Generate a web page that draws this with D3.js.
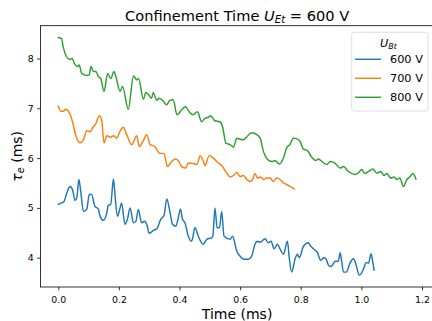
<!DOCTYPE html>
<html>
<head>
<meta charset="utf-8">
<script src="https://cdn.jsdelivr.net/npm/d3@7/dist/d3.min.js"></script>
<style>
  body { margin: 0; background: #fff; }
  svg { display: block; font-family: "DejaVu Sans", sans-serif; }
</style>
</head>
<body>
<svg id="chart" width="432" height="321"></svg>
<script>
// Confinement time traces, one per U_Bt setting (time in ms, tau_e in ms)
const time600 = [0, 0.011, 0.019, 0.028, 0.039, 0.047, 0.055, 0.061, 0.068, 0.074, 0.083, 0.094, 0.102, 0.110, 0.121, 0.132, 0.138, 0.149, 0.160, 0.165, 0.173, 0.182, 0.187, 0.195, 0.204, 0.209, 0.220, 0.228, 0.237, 0.248, 0.256, 0.264, 0.275, 0.284, 0.292, 0.300, 0.314, 0.325, 0.338, 0.349, 0.358, 0.369, 0.377, 0.388, 0.396, 0.403, 0.410, 0.418, 0.429, 0.440, 0.451, 0.462, 0.478, 0.490, 0.506, 0.510, 0.517, 0.524, 0.532, 0.539, 0.547, 0.567, 0.575, 0.589, 0.600, 0.613, 0.627, 0.638, 0.649, 0.657, 0.666, 0.682, 0.693, 0.702, 0.712, 0.723, 0.732, 0.743, 0.756, 0.762, 0.770, 0.781, 0.789, 0.795, 0.809, 0.825, 0.833, 0.842, 0.855, 0.866, 0.877, 0.883, 0.894, 0.902, 0.913, 0.924, 0.930, 0.935, 0.941, 0.950, 0.963, 0.974, 0.983, 0.993, 1.007, 1.016, 1.024, 1.032, 1.038, 1.042];
const tau600 = [5.07, 5.10, 5.13, 5.30, 5.43, 5.37, 5.15, 5.20, 5.57, 5.33, 4.93, 4.97, 5.27, 5.27, 5.03, 4.98, 4.83, 4.75, 4.90, 5.05, 5.07, 5.58, 5.27, 4.83, 5.00, 5.10, 4.67, 4.77, 5.00, 4.70, 4.73, 4.97, 4.70, 4.73, 4.67, 4.49, 4.55, 4.58, 4.77, 4.85, 5.18, 4.90, 4.67, 4.63, 4.80, 4.98, 4.77, 4.70, 4.43, 4.33, 4.60, 4.43, 4.27, 4.37, 4.40, 4.43, 5.00, 4.60, 4.60, 4.93, 4.43, 4.37, 4.43, 4.13, 4.03, 3.97, 3.97, 4.03, 4.27, 4.33, 4.31, 4.38, 4.30, 4.33, 4.18, 4.27, 4.17, 4.07, 4.33, 4.00, 3.71, 3.97, 4.07, 4.00, 4.23, 4.30, 4.23, 4.18, 4.10, 3.95, 4.00, 3.98, 3.83, 3.83, 3.93, 3.93, 4.10, 3.93, 3.71, 3.71, 3.90, 3.98, 3.85, 3.65, 3.77, 3.90, 3.89, 4.08, 3.90, 3.75];

const time700 = [0, 0.008, 0.016, 0.025, 0.036, 0.047, 0.058, 0.072, 0.083, 0.094, 0.105, 0.116, 0.124, 0.135, 0.143, 0.151, 0.160, 0.173, 0.182, 0.193, 0.203, 0.214, 0.226, 0.242, 0.259, 0.267, 0.279, 0.292, 0.303, 0.319, 0.333, 0.349, 0.360, 0.374, 0.385, 0.396, 0.407, 0.420, 0.429, 0.446, 0.457, 0.468, 0.479, 0.484, 0.498, 0.512, 0.528, 0.539, 0.556, 0.567, 0.578, 0.589, 0.600, 0.611, 0.622, 0.632, 0.641, 0.649, 0.657, 0.668, 0.677, 0.688, 0.699, 0.710, 0.720, 0.732, 0.743, 0.754, 0.765, 0.779];
const tau700 = [7.05, 6.94, 6.94, 6.98, 6.92, 6.73, 6.45, 6.31, 6.37, 6.55, 6.53, 6.63, 6.69, 6.85, 6.77, 6.30, 6.45, 6.42, 6.45, 6.40, 6.53, 6.62, 6.47, 6.27, 6.45, 6.23, 6.33, 6.47, 6.27, 6.23, 6.10, 6.09, 5.83, 5.93, 5.98, 5.95, 5.83, 5.80, 5.90, 5.89, 5.87, 6.05, 5.93, 5.85, 6.05, 6.00, 5.90, 5.85, 5.70, 5.62, 5.65, 5.71, 5.63, 5.65, 5.57, 5.53, 5.57, 5.69, 5.60, 5.62, 5.57, 5.60, 5.60, 5.53, 5.60, 5.57, 5.50, 5.47, 5.43, 5.38];

const time800 = [0, 0.011, 0.016, 0.027, 0.038, 0.046, 0.053, 0.063, 0.069, 0.077, 0.094, 0.102, 0.108, 0.116, 0.124, 0.132, 0.140, 0.151, 0.163, 0.173, 0.184, 0.190, 0.204, 0.212, 0.231, 0.248, 0.259, 0.265, 0.281, 0.289, 0.298, 0.308, 0.313, 0.325, 0.333, 0.347, 0.357, 0.368, 0.379, 0.392, 0.407, 0.420, 0.432, 0.445, 0.459, 0.473, 0.484, 0.495, 0.503, 0.517, 0.533, 0.542, 0.553, 0.567, 0.578, 0.589, 0.600, 0.611, 0.622, 0.638, 0.655, 0.666, 0.677, 0.687, 0.704, 0.715, 0.729, 0.743, 0.753, 0.764, 0.776, 0.787, 0.798, 0.809, 0.822, 0.836, 0.850, 0.858, 0.872, 0.886, 0.897, 0.913, 0.930, 0.941, 0.957, 0.979, 0.990, 1.001, 1.012, 1.023, 1.038, 1.051, 1.064, 1.075, 1.084, 1.097, 1.108, 1.117, 1.127, 1.139, 1.150, 1.161, 1.170, 1.180];
const tau800 = [8.42, 8.40, 8.24, 8.04, 7.98, 8.00, 7.90, 7.84, 7.87, 7.70, 7.66, 7.67, 7.84, 7.74, 7.74, 7.64, 7.60, 7.34, 7.70, 7.60, 7.74, 7.64, 7.34, 7.44, 6.98, 7.65, 7.57, 7.60, 7.18, 7.32, 7.27, 7.20, 7.32, 7.16, 7.20, 7.14, 7.07, 7.16, 7.17, 6.87, 6.97, 7.03, 6.93, 6.87, 6.93, 6.73, 6.80, 6.82, 6.85, 6.75, 6.73, 6.63, 6.30, 6.27, 6.22, 6.40, 6.38, 6.37, 6.43, 6.51, 6.47, 6.40, 6.13, 6.00, 5.93, 5.95, 5.88, 6.00, 6.20, 6.27, 6.40, 6.39, 6.33, 6.18, 6.15, 6.02, 5.95, 5.98, 5.92, 5.87, 5.93, 5.90, 5.80, 5.83, 5.73, 5.67, 5.70, 5.77, 5.69, 5.73, 5.78, 5.70, 5.73, 5.65, 5.69, 5.60, 5.62, 5.57, 5.60, 5.43, 5.57, 5.63, 5.69, 5.58];

const seriesLabels = ["600 V", "700 V", "800 V"];
const seriesColors = ["#1f77b4", "#ff7f0e", "#2ca02c"];
const xTickValues = [0, 0.2, 0.4, 0.6, 0.8, 1.0, 1.2];
const yTickValues = [4, 5, 6, 7, 8];

const series = [
  { label: seriesLabels[0], color: seriesColors[0], t: time600, v: tau600 },
  { label: seriesLabels[1], color: seriesColors[1], t: time700, v: tau700 },
  { label: seriesLabels[2], color: seriesColors[2], t: time800, v: tau800 }
].map(s => ({ ...s, points: s.t.map((t, i) => [t, s.v[i]]) }));

// Plot box
const box = { left: 40.4, right: 433.8, top: 25.7, bottom: 287 };

// Axis limits with a 5% margin around the data
function padded(ext) { const p = (ext[1] - ext[0]) * 0.05; return [ext[0] - p, ext[1] + p]; }
const xExt = padded(d3.extent(series.flatMap(s => s.t)));
const yExt = padded(d3.extent(series.flatMap(s => s.v)));

const x = d3.scaleLinear().domain(xExt).range([box.left, box.right]);
const y = d3.scaleLinear().domain(yExt).range([box.bottom, box.top]);

const svg = d3.select("#chart");

// Clip the traces to the axes area
svg.append("defs").append("clipPath").attr("id", "plotClip")
  .append("rect").attr("x", box.left).attr("y", box.top)
  .attr("width", box.right - box.left).attr("height", box.bottom - box.top);

const line = d3.line().x(d => x(d[0])).y(d => y(d[1])).curve(d3.curveMonotoneX);

svg.append("g").attr("clip-path", "url(#plotClip)")
  .selectAll("path").data(series).join("path")
  .attr("d", s => line(s.points))
  .attr("fill", "none")
  .attr("stroke", s => s.color)
  .attr("stroke-width", 1.45)
  .attr("stroke-linejoin", "round")
  .attr("stroke-linecap", "square");

// Axes
const xAxis = svg.append("g").attr("transform", `translate(0,${box.bottom})`)
  .call(d3.axisBottom(x).tickValues(xTickValues).tickFormat(d3.format(".1f"))
    .tickSize(3.3).tickPadding(5.8).tickSizeOuter(0));
const yAxis = svg.append("g").attr("transform", `translate(${box.left},0)`)
  .call(d3.axisLeft(y).tickValues(yTickValues).tickFormat(d3.format("d"))
    .tickSize(3.3).tickPadding(3.4).tickSizeOuter(0));

[xAxis, yAxis].forEach(g => {
  g.select(".domain").remove();
  g.selectAll(".tick line").attr("stroke", "#000").attr("stroke-width", 0.8);
  g.selectAll(".tick text").attr("fill", "#000").style("font-size", "9.4px")
    .style("font-family", "'DejaVu Sans', sans-serif");
});

// Frame
svg.append("rect")
  .attr("x", box.left).attr("y", box.top)
  .attr("width", box.right - box.left).attr("height", box.bottom - box.top)
  .attr("fill", "none").attr("stroke", "#000").attr("stroke-width", 0.8);

// Title
const title = svg.append("text")
  .attr("x", (box.left + box.right) / 2).attr("y", 20.5)
  .attr("text-anchor", "middle").style("font-size", "14.6px").attr("fill", "#000");
title.append("tspan").text("Confinement Time ");
title.append("tspan").style("font-style", "italic").text("U");
title.append("tspan").style("font-style", "italic").style("font-size", "10.2px").attr("dy", 2.6).text("Et");
title.append("tspan").attr("dy", -2.6).text(" = 600 V");

// Axis labels
svg.append("text")
  .attr("x", (box.left + box.right) / 2).attr("y", 319)
  .attr("text-anchor", "middle").style("font-size", "14px").attr("fill", "#000")
  .text("Time (ms)");

const yLabel = svg.append("text")
  .attr("transform", `translate(21.5,${(box.top + box.bottom) / 2}) rotate(-90)`)
  .attr("text-anchor", "middle").style("font-size", "14px").attr("fill", "#000");
yLabel.append("tspan").style("font-style", "italic").text("τ");
yLabel.append("tspan").style("font-style", "italic").style("font-size", "9.8px").attr("dy", 2.4).text("e");
yLabel.append("tspan").attr("dy", -2.4).text(" (ms)");

// Legend
const lg = { x: 351.7, y: 32.3, w: 76.3, h: 78.7 };
const legend = svg.append("g");
legend.append("rect")
  .attr("x", lg.x).attr("y", lg.y).attr("width", lg.w).attr("height", lg.h)
  .attr("rx", 2.5).attr("fill", "#fff").attr("fill-opacity", 0.8)
  .attr("stroke", "#d6d6d6").attr("stroke-width", 0.8);

const lgTitle = legend.append("text")
  .attr("x", lg.x + lg.w / 2 - 1.5).attr("y", 47)
  .attr("text-anchor", "middle").style("font-size", "11.3px").attr("fill", "#000");
lgTitle.append("tspan").style("font-style", "italic").text("U");
lgTitle.append("tspan").style("font-style", "italic").style("font-size", "7.9px").attr("dy", 2).text("Bt");

const rows = legend.selectAll("g.row").data(series).join("g")
  .attr("class", "row")
  .attr("transform", (d, i) => `translate(0,${59.3 + i * 19})`);
rows.append("line")
  .attr("x1", 355).attr("x2", 381).attr("y1", 0).attr("y2", 0)
  .attr("stroke", d => d.color).attr("stroke-width", 1.45);
rows.append("text")
  .attr("x", 390).attr("y", 0).attr("dy", "0.36em")
  .style("font-size", "11.3px").attr("fill", "#000")
  .text(d => d.label);
</script>
</body>
</html>
